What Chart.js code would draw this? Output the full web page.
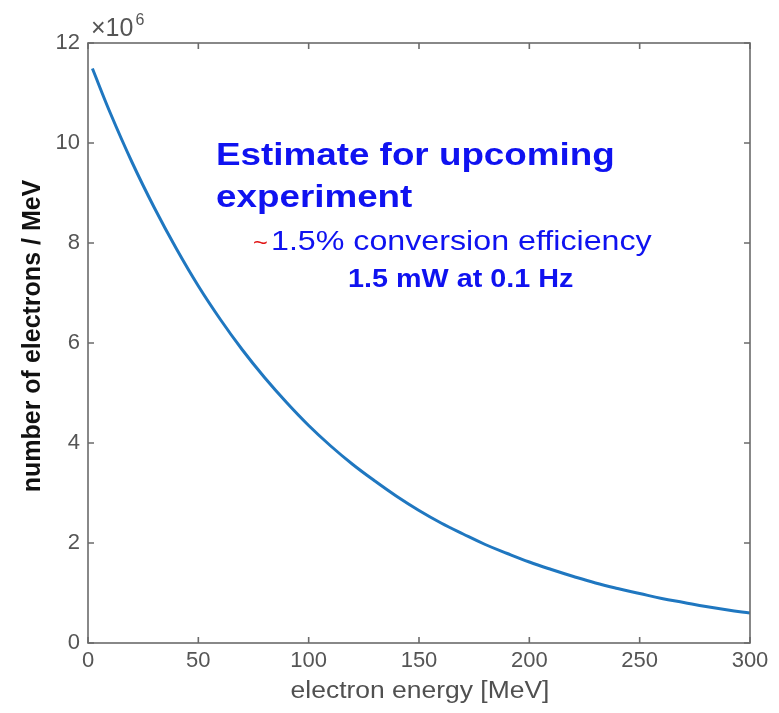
<!DOCTYPE html>
<html>
<head>
<meta charset="utf-8">
<title>Electron spectrum estimate</title>
<script src="https://cdn.jsdelivr.net/npm/chart.js@4.4.1/dist/chart.umd.min.js"></script>
<style>
    html, body { margin: 0; padding: 0; background: #fff; }
    #wrap { width: 779px; height: 713px; }
</style>
</head>
<body>
<div id="wrap"><canvas id="spectrum" width="779" height="713"></canvas></div>
<script>
// electron energy [MeV]
const energies = [2, 10, 20, 30, 40, 50, 60, 70, 80, 90, 100, 110, 120, 130, 140, 150,
    160, 170, 180, 190, 200, 210, 220, 230, 240, 250, 260, 270, 280, 290, 300];
// number of electrons / MeV, in units of 10^6
const electrons = [11.49, 10.61, 9.61, 8.71, 7.89, 7.14, 6.47, 5.86, 5.31, 4.81, 4.35,
    3.94, 3.57, 3.24, 2.93, 2.65, 2.40, 2.18, 1.97, 1.79, 1.62, 1.47, 1.33, 1.20,
    1.09, 0.99, 0.89, 0.81, 0.73, 0.66, 0.60];
const xTicks = [0, 50, 100, 150, 200, 250, 300];
const yTicks = [0, 2, 4, 6, 8, 10, 12];
const yExponent = '6';

const FONT = '"Liberation Sans", Arial, Helvetica, sans-serif';
const TICK_GREY = '#555555';
const AXIS_GREY = '#6b6b6b';
const TEXT_BLUE = '#0f12f0';
const STRETCH = 1.15; // the source figure is a bit wider than tall

function wideText(ctx, text, x, y, font, color) {
    ctx.save();
    ctx.font = font;
    ctx.fillStyle = color;
    ctx.scale(STRETCH, 1);
    ctx.fillText(text, x / STRETCH, y);
    ctx.restore();
}

// box, inward ticks, axis titles and the annotation
const framePlugin = {
    id: 'frame',
    afterDraw(chart) {
        const ctx = chart.ctx;
        const a = chart.chartArea;
        const xs = chart.scales.x;
        const ys = chart.scales.y;
        const tl = 6;
        ctx.save();
        ctx.strokeStyle = AXIS_GREY;
        ctx.lineWidth = 1.6;
        ctx.strokeRect(a.left, a.top, a.right - a.left, a.bottom - a.top);
        ctx.beginPath();
        xTicks.forEach(function(v) {
            const px = xs.getPixelForValue(v);
            ctx.moveTo(px, a.bottom); ctx.lineTo(px, a.bottom - tl);
            ctx.moveTo(px, a.top); ctx.lineTo(px, a.top + tl);
        });
        yTicks.forEach(function(v) {
            const py = ys.getPixelForValue(v);
            ctx.moveTo(a.left, py); ctx.lineTo(a.left + tl, py);
            ctx.moveTo(a.right, py); ctx.lineTo(a.right - tl, py);
        });
        ctx.stroke();

        // x10^6 multiplier
        ctx.textBaseline = 'alphabetic';
        ctx.textAlign = 'left';
        ctx.fillStyle = TICK_GREY;
        ctx.font = '25px ' + FONT;
        ctx.fillText('\u00d710', a.left + 3, a.top - 7);
        const w = ctx.measureText('\u00d710').width;
        ctx.font = '16px ' + FONT;
        ctx.fillText(yExponent, a.left + 5 + w, a.top - 18);

        // axis titles
        ctx.textAlign = 'center';
        wideText(ctx, 'electron energy [MeV]', (a.left + a.right) / 2 + 1, 698,
            '23px ' + FONT, '#505050');

        ctx.save();
        ctx.translate(40, 336);
        ctx.rotate(-Math.PI / 2);
        ctx.fillStyle = '#111111';
        ctx.font = 'bold 25px ' + FONT;
        ctx.fillText('number of electrons / MeV', 0, 0);
        ctx.restore();

        // annotation
        ctx.textAlign = 'left';
        wideText(ctx, 'Estimate for upcoming', 216, 165, 'bold 32px ' + FONT, TEXT_BLUE);
        wideText(ctx, 'experiment', 216, 207, 'bold 32px ' + FONT, TEXT_BLUE);
        wideText(ctx, '~', 253, 250, '22px ' + FONT, '#e01010');
        wideText(ctx, '1.5% conversion efficiency', 271, 250, '28px ' + FONT, TEXT_BLUE);
        wideText(ctx, '1.5 mW at 0.1 Hz', 348, 287, 'bold 25px ' + FONT, TEXT_BLUE);
        ctx.restore();
    }
};

const ctx = document.getElementById('spectrum').getContext('2d');
new Chart(ctx, {
    type: 'line',
    data: {
        datasets: [{
            label: 'electrons',
            data: energies.map(function(e, i) { return { x: e, y: electrons[i] }; }),
            borderColor: '#1f77c0',
            borderWidth: 3,
            pointRadius: 0,
            tension: 0.4,
            fill: false
        }]
    },
    options: {
        responsive: false,
        animation: false,
        layout: { padding: { top: 43, right: 29, left: 0, bottom: 0 } },
        plugins: {
            legend: { display: false },
            tooltip: { enabled: false }
        },
        scales: {
            x: {
                type: 'linear',
                min: 0,
                max: 300,
                afterFit: function(scale) { scale.height = 70; },
                afterBuildTicks: function(scale) {
                    scale.ticks = xTicks.map(function(v) { return { value: v }; });
                },
                grid: { display: false, drawTicks: false },
                border: { display: false },
                ticks: {
                    color: TICK_GREY,
                    padding: 5,
                    maxRotation: 0,
                    font: { family: FONT, size: 22 }
                }
            },
            y: {
                type: 'linear',
                min: 0,
                max: 12,
                afterFit: function(scale) { scale.width = 88; },
                afterBuildTicks: function(scale) {
                    scale.ticks = yTicks.map(function(v) { return { value: v }; });
                },
                grid: { display: false, drawTicks: false },
                border: { display: false },
                ticks: {
                    color: TICK_GREY,
                    padding: 8,
                    font: { family: FONT, size: 22 }
                }
            }
        }
    },
    plugins: [framePlugin]
});
</script>
</body>
</html>
